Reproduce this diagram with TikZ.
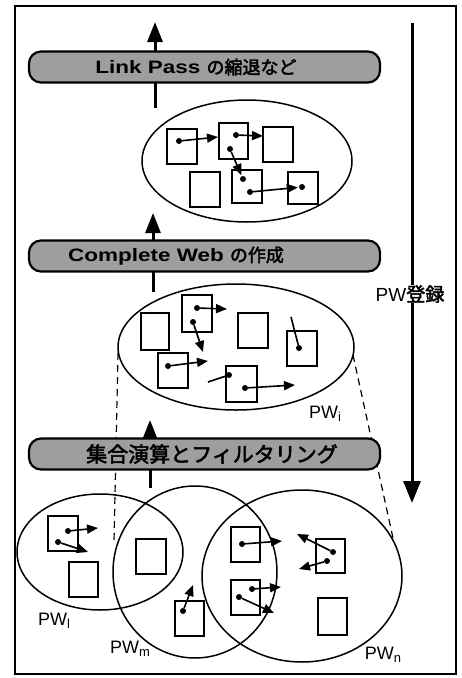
\documentclass[tikz,border=0pt]{standalone}
\usepackage{fontspec}
\setmainfont{Liberation Sans}
\newfontfamily\jp{Noto Sans CJK JP}[FakeBold=1.5]
\newfontfamily\jpb{Noto Sans CJK JP}[FakeBold=2.5]
\newfontfamily\bl{Liberation Sans}[FakeStretch=1.25]
\usetikzlibrary{arrows.meta,shapes.geometric}
\begin{document}
\begin{tikzpicture}[x=1pt,y=-1pt,
  pg/.style={draw,line width=1.7pt,minimum width=29pt,minimum height=35pt,inner sep=0pt},
  oval/.style={ellipse,draw,line width=1.5pt,inner sep=0pt},
  lnk/.style={line width=1.6pt,-{Triangle[length=11pt,width=9pt]}},
  plainln/.style={line width=1.6pt},
  dt/.style={circle,fill,inner sep=0pt,minimum size=6pt},
  flow/.style={line width=3pt,-{Triangle[length=20pt,width=15pt]}},
  dashline/.style={line width=1.2pt,dash pattern=on 7pt off 5pt},
  banner/.style={draw,line width=2.2pt,rounded corners=12pt,fill=black!38,minimum width=351pt,minimum height=31pt,inner sep=0pt},
  btext/.style={inner sep=0pt,text=black},
  lbl/.style={inner sep=0pt,font=\fontsize{18}{18}\selectfont}]
\useasboundingbox (0,0) rectangle (462,678);
\fill[white] (0,0) rectangle (462,678);
\draw[line width=1.2pt] (15,6) rectangle (456,674);

% dashed projection lines
\coordinate (dl1) at (118,353); \coordinate (dl2) at (114,542);
\coordinate (dr1) at (353,355); \coordinate (dr2) at (393,538);
\draw[dashline] (dl1) -- (dl2);
\draw[dashline] (dr1) -- (dr2);

% vertical flow arrows
\coordinate (u1s) at (155,108); \coordinate (u1e) at (155,22);
\coordinate (u2s) at (153,292); \coordinate (u2e) at (153,213);
\coordinate (u3s) at (150,488); \coordinate (u3e) at (150,420);
\draw[flow] (u1s) -- (u1e);
\draw[flow] (u2s) -- (u2e);
\draw[flow] (u3s) -- (u3e);

% right arrow
\coordinate (rt) at (412,23); \coordinate (rb) at (412,503);
\draw[line width=3pt,-{Triangle[length=22pt,width=17pt]}] (rt) -- (rb);
\node[inner sep=0pt,fill=white,font=\fontsize{19}{19}\selectfont] (reg) at (410,294) {PW{\jpb 登録}};

% banners
\node[banner] (b1) at (204.5,67) {};
\node[banner] (b2) at (204.5,256) {};
\node[banner] (b3) at (204.5,454) {};
\node[btext] (t1) at (196,67) {{\bl\bfseries\fontsize{18}{18}\selectfont Link Pass}\hspace{6pt}{\jpb\fontsize{18}{18}\selectfont の縮退など}};
\node[btext] (t2) at (176,256) {{\bl\bfseries\fontsize{18}{18}\selectfont Complete Web}\hspace{6pt}{\jpb\fontsize{18}{18}\selectfont の作成}};
\node[btext] (t3) at (212,454) {{\jpb\fontsize{21}{21}\selectfont 集合演算とフィルタリング}};

% ---- top ellipse
\node[oval,minimum width=210pt,minimum height=122pt] (E1) at (247,161) {};
\node[pg,minimum width=30pt] (A) at (182,146.5) {};
\node[pg,minimum height=36pt] (B) at (233.5,141) {};
\node[pg,minimum width=30pt] (C) at (278,144.5) {};
\node[pg,minimum width=30pt] (D) at (205,189.5) {};
\node[pg,minimum width=30pt,minimum height=33pt] (E) at (247,186.5) {};
\node[pg,minimum width=30pt,minimum height=32pt] (F) at (303,188) {};
\node[dt] (a1) at (179,141) {}; \coordinate (a2) at (218,137);
\node[dt] (b1d) at (236,135) {}; \coordinate (b2d) at (263,136);
\node[dt] (b3d) at (230,149) {}; \node[dt] (e1) at (243,179) {};
\node[dt] (e2) at (250,192) {}; \node[dt] (f1) at (302,187) {};
\draw[lnk] (a1) -- (a2);
\draw[lnk] (b1d) -- (b2d);
\draw[lnk,shorten >=1pt] (b3d) -- (e1);
\draw[lnk,shorten >=1pt] (e2) -- (f1);

% ---- middle ellipse
\node[oval,minimum width=236pt,minimum height=126pt] (E2) at (236,347) {};
\node[pg,minimum width=28pt,minimum height=37pt] (G) at (155,331.5) {};
\node[pg,minimum width=30pt,minimum height=37pt] (H) at (197,313.5) {};
\node[pg,minimum width=30pt] (I) at (253,330.5) {};
\node[pg,minimum width=30pt] (J) at (302,348.5) {};
\node[pg,minimum width=30pt] (K) at (173,370.5) {};
\node[pg,minimum width=31pt,minimum height=36pt] (L) at (241.5,384) {};
\node[dt] (h1) at (197,308) {}; \coordinate (h2) at (227,309);
\node[dt] (h3) at (193,322) {}; \coordinate (h4) at (203,352);
\coordinate (j0) at (291,317); \node[dt] (j1) at (299,348) {};
\node[dt] (k1) at (168,366) {}; \coordinate (k2) at (208,361);
\coordinate (l0) at (208,382); \node[dt] (l1) at (229,375) {};
\node[dt] (l2) at (245,388) {}; \coordinate (l3) at (295,385);
\draw[lnk] (h1) -- (h2);
\draw[lnk] (h3) -- (h4);
\draw[plainln] (j0) -- (j1);
\draw[lnk] (k1) -- (k2);
\draw[plainln] (l0) -- (l1);
\draw[lnk] (l2) -- (l3);
\node[lbl] (pwi) at (325,414) {PW{\fontsize{13}{13}\selectfont\raisebox{-3pt}{i}}};

% ---- bottom ellipses
\node[oval,minimum width=166pt,minimum height=116pt] (PW1) at (100,552) {};
\node[oval,minimum width=164pt,minimum height=172pt] (PWm) at (195,572) {};
\node[oval,minimum width=200pt,minimum height=172pt] (PWn) at (302,576) {};
\node[pg,minimum width=30pt] (P1) at (63,533.5) {};
\node[pg] (P2) at (83.5,579.5) {};
\node[pg,minimum width=30pt] (M1) at (151,556.5) {};
\node[pg] (M2) at (189.5,618.5) {};
\node[pg] (N1) at (245.5,544.5) {};
\node[pg,minimum height=34pt] (N2) at (330.5,556) {};
\node[pg] (N3) at (245.5,597.5) {};
\node[pg,minimum height=37pt] (N4) at (332.5,616.5) {};
\node[dt] (p1) at (68,531) {}; \coordinate (p2) at (98,528);
\node[dt] (p3) at (58,542) {}; \coordinate (p4) at (88,552);
\node[dt] (m1) at (183,611) {}; \coordinate (m2) at (193,585);
\node[dt] (n1) at (242,544) {}; \coordinate (n2) at (282,541);
\node[dt] (n3) at (333,552) {}; \coordinate (n4) at (297,534);
\node[dt] (n5) at (327,561) {}; \coordinate (n6) at (299,569);
\node[dt] (n7) at (252,589) {}; \coordinate (n8) at (281,587);
\node[dt] (n9) at (239,597) {}; \coordinate (n10) at (274,613);
\draw[lnk] (p1) -- (p2);
\draw[lnk] (p3) -- (p4);
\draw[lnk] (m1) -- (m2);
\draw[lnk] (n1) -- (n2);
\draw[lnk] (n3) -- (n4);
\draw[lnk] (n5) -- (n6);
\draw[lnk] (n7) -- (n8);
\draw[lnk] (n9) -- (n10);
\node[lbl] (pwl) at (54,621) {PW{\fontsize{13}{13}\selectfont\raisebox{-3pt}{l}}};
\node[lbl] (pwm) at (130,649) {PW{\fontsize{13}{13}\selectfont\raisebox{-3pt}{m}}};
\node[lbl] (pwn) at (383,655) {PW{\fontsize{13}{13}\selectfont\raisebox{-3pt}{n}}};
\end{tikzpicture}
\end{document}
